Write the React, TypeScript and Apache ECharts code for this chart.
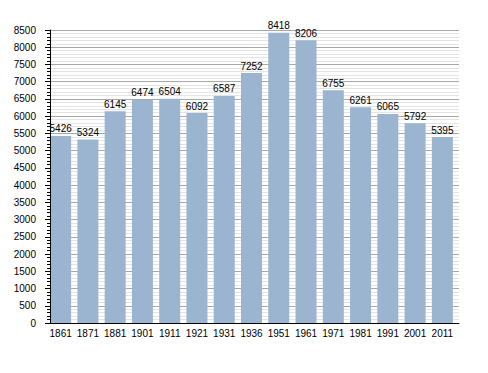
import React, { useEffect, useRef } from "react";
import * as echarts from "echarts";

const categories = ["1861", "1871", "1881", "1901", "1911", "1921", "1931", "1936", "1951", "1961", "1971", "1981", "1991", "2001", "2011"];
const population = [5426, 5324, 6145, 6474, 6504, 6092, 6587, 7252, 8418, 8206, 6755, 6261, 6065, 5792, 5395];
const yMin = 0;
const yMax = 8500;
const yInterval = 500;

export default function App() {
  const ref = useRef<HTMLDivElement>(null);
  useEffect(() => {
    document.body.style.margin = "0";
    if (!ref.current) return;
    const chart = echarts.init(ref.current, null, { renderer: "svg" });
    const font = "'Liberation Sans', Arial, Helvetica, sans-serif";
    chart.setOption({
      animation: false,
      backgroundColor: "#ffffff",
      grid: [
        { left: 50, right: 29, top: 30, bottom: 50 },
        { left: 47, right: 32, top: 30, bottom: 50 },
      ],
      xAxis: [
        {
          gridIndex: 0,
          type: "category",
          position: "bottom",
          data: categories,
          axisLine: { show: true, lineStyle: { color: "#000", width: 1 } },
          axisTick: { show: false },
          axisLabel: { show: false },
          splitLine: { show: false },
          z: 10,
        },
        {
          gridIndex: 1,
          type: "category",
          position: "bottom",
          data: categories,
          axisLine: { show: false },
          axisTick: { show: false },
          axisLabel: { show: true, color: "#000", fontSize: 10, fontFamily: font, margin: 5, interval: 0 },
          splitLine: { show: false },
        },
      ],
      yAxis: [
        {
          gridIndex: 0,
          type: "value",
          position: "left",
          min: yMin,
          max: yMax,
          interval: yInterval,
          axisLine: { show: false },
          axisTick: { show: false },
          axisLabel: { show: false },
          splitLine: { show: true, lineStyle: { color: "#a8a8a8", width: 1 } },
          minorTick: { show: false, splitNumber: 5 },
          minorSplitLine: { show: true, lineStyle: { color: "#e4e4e4", width: 1 } },
          z: 0,
        },
        {
          gridIndex: 1,
          type: "value",
          position: "left",
          min: yMin,
          max: yMax,
          interval: yInterval,
          show: false,
          splitLine: { show: false },
        },
        {
          gridIndex: 0,
          type: "value",
          position: "left",
          offset: 0,
          min: yMin,
          max: yMax,
          interval: yInterval,
          axisLine: { show: true, lineStyle: { color: "#000", width: 1 } },
          axisTick: { show: true, length: 5, lineStyle: { color: "#000" } },
          minorTick: { show: true, splitNumber: 5, length: 3, lineStyle: { color: "#000" } },
          axisLabel: {
            color: "#000",
            fontSize: 10,
            fontFamily: font,
            margin: 14,
            formatter: (v: number) => String(v),
          },
          splitLine: { show: false },
          minorSplitLine: { show: false },
          z: 10,
        },
      ],
      series: [
        {
          type: "bar",
          xAxisIndex: 1,
          yAxisIndex: 1,
          data: population,
          barWidth: 21,
          itemStyle: { color: "#9bb4cf" },
          label: {
            show: true,
            position: "top",
            distance: 2,
            color: "#000",
            fontSize: 10,
            fontFamily: font,
          },
          z: 3,
        },
      ],
    });
    return () => chart.dispose();
  }, []);
  return <div ref={ref} style={{ width: 488, height: 373 }} />;
}
